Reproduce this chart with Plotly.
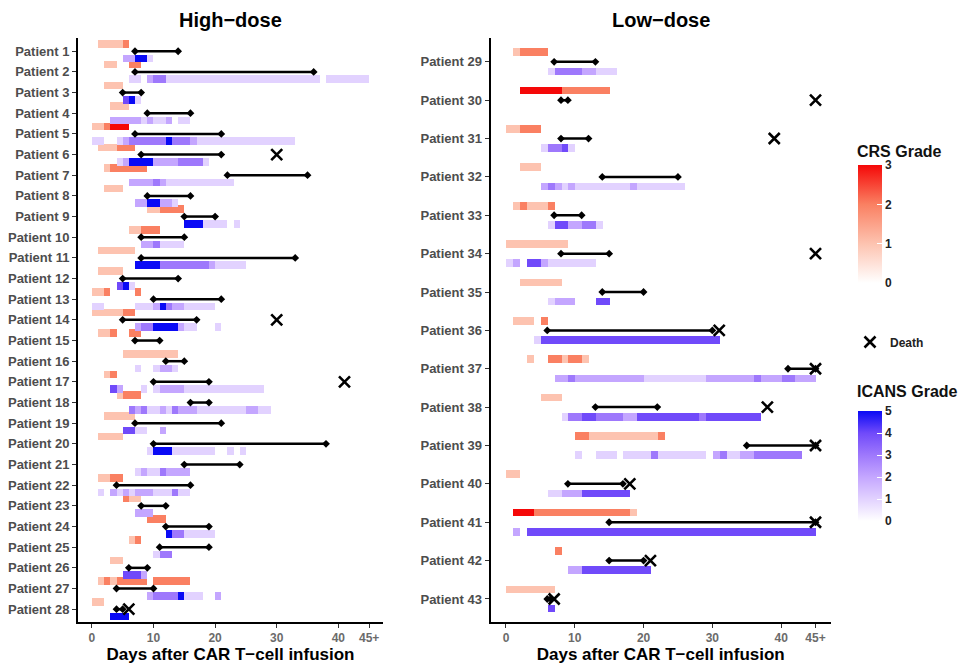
import plotly.graph_objects as go

# ---------------- data ----------------
HIGH_DOSE = list(range(1, 29))
LOW_DOSE = list(range(29, 44))
X_TICKS = [0, 10, 20, 30, 40, 45]
X_TICK_LABELS = ["0", "10", "20", "30", "40", "45+"]

# CRS grade per day, as runs (first day, last day, grade)
CRS_RUNS = {
    1: [(1, 4, 1), (5, 5, 2)],
    2: [(2, 3, 1), (6, 7, 2)],
    3: [(2, 4, 1)],
    4: [(3, 5, 1)],
    5: [(0, 1, 1), (2, 2, 2), (3, 5, 3)],
    6: [(1, 3, 1), (4, 6, 2)],
    7: [(2, 2, 1), (3, 8, 2)],
    8: [(2, 4, 1)],
    9: [(9, 10, 1), (11, 14, 2)],
    10: [(6, 7, 1), (8, 10, 2)],
    11: [(1, 6, 1)],
    12: [(1, 4, 1)],
    13: [(0, 1, 1), (2, 2, 2), (7, 7, 2)],
    14: [(0, 4, 1), (5, 6, 2)],
    15: [(1, 2, 1), (3, 3, 2), (6, 7, 2)],
    16: [(5, 13, 1)],
    17: [(2, 2, 1), (3, 3, 2)],
    18: [(4, 4, 1), (5, 7, 2)],
    19: [(2, 6, 1)],
    20: [(1, 4, 1)],
    22: [(1, 2, 1), (3, 4, 2)],
    23: [(5, 5, 2), (6, 7, 1)],
    24: [(9, 11, 2)],
    25: [(6, 6, 1), (7, 7, 2)],
    26: [(3, 4, 1)],
    27: [(1, 1, 1), (2, 2, 2), (3, 3, 1), (4, 8, 2), (10, 15, 2)],
    28: [(0, 1, 1)],
    29: [(1, 1, 1), (2, 5, 2)],
    30: [(2, 7, 3), (8, 14, 2)],
    31: [(0, 1, 1), (2, 4, 2)],
    32: [(2, 4, 1)],
    33: [(1, 1, 1), (2, 2, 2), (3, 5, 1), (6, 6, 2)],
    34: [(0, 8, 1)],
    35: [(2, 7, 1)],
    36: [(1, 3, 1), (5, 5, 2)],
    37: [(3, 3, 1), (6, 7, 2), (8, 8, 1), (9, 10, 2), (11, 11, 1)],
    38: [(5, 7, 1)],
    39: [(10, 11, 2), (12, 21, 1), (22, 22, 2)],
    40: [(0, 1, 1)],
    41: [(1, 3, 3), (4, 17, 2), (18, 18, 1)],
    42: [(7, 7, 2)],
    43: [(0, 6, 1)],
}

# ICANS grade per day, as runs (first day, last day, grade)
ICANS_RUNS = {
    1: [(5, 6, 2), (7, 8, 5), (9, 9, 1)],
    2: [(6, 7, 1), (9, 9, 2), (10, 11, 3), (12, 36, 1), (38, 44, 1)],
    3: [(5, 5, 4), (6, 6, 5), (7, 7, 1)],
    4: [(3, 7, 2), (8, 8, 1), (9, 9, 2), (10, 11, 1), (12, 12, 2), (14, 15, 1)],
    5: [(0, 1, 1), (4, 4, 1), (5, 5, 2), (6, 11, 3), (12, 12, 5), (13, 15, 3), (16, 16, 2), (17, 32, 1)],
    6: [(4, 4, 1), (5, 5, 2), (6, 9, 5), (10, 13, 2), (14, 17, 3), (18, 18, 1)],
    7: [(6, 9, 2), (10, 10, 3), (11, 11, 2), (12, 22, 1)],
    8: [(7, 8, 2), (9, 10, 5), (11, 12, 2), (13, 13, 1)],
    9: [(15, 17, 5), (18, 21, 1), (23, 23, 1)],
    10: [(8, 9, 2), (10, 10, 3), (11, 14, 1)],
    11: [(7, 10, 5), (11, 18, 3), (19, 19, 2), (20, 24, 1)],
    12: [(4, 4, 4), (5, 5, 5), (6, 6, 1)],
    13: [(0, 1, 1), (7, 9, 1), (10, 10, 2), (11, 11, 5), (12, 12, 3), (13, 14, 2), (15, 19, 1)],
    14: [(7, 7, 2), (8, 9, 3), (10, 13, 5), (14, 14, 2), (15, 16, 1), (20, 20, 1)],
    16: [(7, 7, 1), (10, 10, 1), (11, 12, 2), (13, 13, 1)],
    17: [(3, 3, 4), (4, 4, 2), (8, 8, 1), (10, 10, 1), (11, 14, 2), (15, 27, 1)],
    18: [(6, 6, 3), (7, 7, 2), (8, 8, 3), (9, 10, 1), (11, 11, 2), (12, 12, 1), (13, 13, 3),
         (14, 16, 2), (17, 24, 1), (25, 26, 2), (27, 28, 1)],
    19: [(5, 6, 4), (7, 8, 1), (11, 11, 2)],
    20: [(9, 9, 1), (10, 12, 5), (13, 19, 1), (22, 22, 1), (24, 24, 1)],
    21: [(7, 7, 1), (8, 8, 2), (9, 10, 1), (11, 11, 3), (12, 15, 2)],
    22: [(1, 1, 1), (3, 3, 2), (4, 4, 1), (5, 5, 2), (6, 6, 1), (7, 9, 2), (10, 12, 1), (13, 13, 3), (14, 15, 1)],
    23: [(7, 9, 2)],
    24: [(12, 12, 5), (13, 14, 3), (15, 19, 1)],
    25: [(10, 10, 1), (11, 12, 3)],
    26: [(5, 7, 4), (8, 8, 2)],
    27: [(9, 9, 2), (10, 13, 3), (14, 14, 5), (15, 17, 1), (20, 20, 2)],
    28: [(3, 5, 5)],
    29: [(6, 6, 1), (7, 10, 3), (11, 12, 2), (13, 15, 1)],
    31: [(5, 5, 1), (6, 7, 3), (8, 8, 4), (9, 9, 1)],
    32: [(5, 5, 2), (6, 6, 3), (7, 7, 2), (8, 8, 1), (9, 9, 2), (10, 17, 1), (18, 18, 2), (19, 25, 1)],
    33: [(6, 6, 1), (7, 8, 4), (9, 10, 2), (11, 12, 3), (13, 13, 1)],
    34: [(0, 0, 1), (1, 1, 2), (3, 4, 4), (5, 5, 2), (6, 12, 1)],
    35: [(6, 6, 1), (7, 9, 2), (13, 14, 4)],
    36: [(4, 4, 1), (5, 30, 4)],
    37: [(7, 8, 2), (9, 9, 3), (10, 19, 2), (20, 28, 1), (29, 35, 2), (36, 36, 3), (37, 39, 2),
         (40, 41, 3), (42, 44, 2)],
    38: [(8, 8, 1), (9, 10, 3), (11, 12, 4), (13, 16, 3), (17, 18, 2), (19, 27, 4), (28, 28, 3), (29, 36, 4)],
    39: [(10, 10, 1), (13, 15, 1), (17, 20, 1), (21, 21, 3), (22, 28, 1), (30, 30, 2), (31, 31, 3),
         (32, 33, 1), (34, 35, 2), (36, 42, 3)],
    40: [(6, 7, 1), (8, 10, 2), (11, 17, 4)],
    41: [(1, 1, 2), (3, 44, 4)],
    42: [(9, 10, 2), (11, 20, 4)],
    43: [(6, 6, 4)],
}

# Corticosteroid treatment (start day, end day)
STEROID = {
    1: (7, 14), 2: (7, 36), 3: (5, 8), 4: (9, 16), 5: (7, 21), 6: (8, 21), 7: (22, 35),
    8: (9, 16), 9: (15, 20), 10: (8, 15), 11: (8, 33), 12: (5, 14), 13: (10, 21), 14: (5, 17),
    15: (7, 11), 16: (12, 15), 17: (10, 19), 18: (16, 19), 19: (7, 21), 20: (10, 38), 21: (15, 24),
    22: (4, 16), 23: (8, 12), 24: (12, 19), 25: (11, 19), 26: (6, 9), 27: (4, 10), 28: (4, 5),
    29: (7, 13), 30: (8, 9), 31: (8, 12), 32: (14, 25), 33: (7, 11), 34: (8, 15), 35: (14, 20),
    36: (6, 30), 37: (41, 45), 38: (13, 22), 39: (35, 45), 40: (9, 17), 41: (15, 45), 42: (15, 20),
    43: (6, 6.5),
}

# Day of death
DEATH_DAY = {6: 30, 14: 30, 17: 41, 28: 6,
             30: 45, 31: 39, 34: 45, 36: 31, 37: 45, 38: 38, 39: 45, 40: 18, 41: 45, 42: 21, 43: 7}

# ---------------- style ----------------
FONT = "Liberation Sans, Arial, sans-serif"
CRS_SCALE = [[0, "rgb(255,255,255)"], [1 / 3, "rgb(253,195,176)"], [2 / 3, "rgb(250,128,98)"],
             [1, "rgb(245,8,8)"]]
ICANS_SCALE = [[0, "rgb(255,255,255)"], [0.2, "rgb(226,210,255)"], [0.4, "rgb(196,166,255)"],
               [0.6, "rgb(158,120,252)"], [0.8, "rgb(112,74,250)"], [1, "rgb(10,10,245)"]]
W, H = 970, 664


def expand(runs, patients):
    days, pats, grades = [], [], []
    for p in patients:
        for s, e, g in runs.get(p, []):
            for d in range(s, e + 1):
                days.append(d)
                pats.append(p)
                grades.append(g)
    return days, pats, grades


def cbar(center_px, len_px, ticks):
    return dict(x=858 / W, xanchor="left", xpad=0, y=1 - center_px / H, yanchor="middle",
                ypad=0, len=len_px, lenmode="pixels", thickness=24, outlinewidth=0,
                tickvals=ticks, ticks="inside", ticklen=5, tickcolor="white",
                tickfont=dict(family=FONT, size=12, color="#222", weight="bold"))


fig = go.Figure()

panels = [
    dict(pats=HIGH_DOSE, xa="x", ya="y", off=0.35, h=0.37, first=True),
    dict(pats=LOW_DOSE, xa="x2", ya="y2", off=0.25, h=0.2, first=False),
]

for pn in panels:
    d, p, g = expand(CRS_RUNS, pn["pats"])
    fig.add_trace(go.Bar(
        orientation="h", base=d, x=[1] * len(d), y=[v - pn["off"] for v in p], width=pn["h"],
        marker=dict(color=g, colorscale=CRS_SCALE, cmin=0, cmax=3, line=dict(width=0),
                    showscale=pn["first"], colorbar=cbar(224, 118, [0, 1, 2, 3])),
        xaxis=pn["xa"], yaxis=pn["ya"], showlegend=False, hoverinfo="skip"))
    d, p, g = expand(ICANS_RUNS, pn["pats"])
    fig.add_trace(go.Bar(
        orientation="h", base=d, x=[1] * len(d), y=[v + pn["off"] for v in p], width=pn["h"],
        marker=dict(color=g, colorscale=ICANS_SCALE, cmin=0, cmax=5, line=dict(width=0),
                    showscale=pn["first"], colorbar=cbar(466, 110, [0, 1, 2, 3, 4, 5])),
        xaxis=pn["xa"], yaxis=pn["ya"], showlegend=False, hoverinfo="skip"))
    sx, sy = [], []
    for q in pn["pats"]:
        if q in STEROID:
            s, e = STEROID[q]
            sx += [s, e, None]
            sy += [q, q, None]
    fig.add_trace(go.Scatter(
        x=sx, y=sy, mode="lines+markers", line=dict(color="black", width=2.5),
        marker=dict(symbol="diamond", size=6, color="black"),
        xaxis=pn["xa"], yaxis=pn["ya"], showlegend=False, hoverinfo="skip"))
    dx = [DEATH_DAY[q] for q in pn["pats"] if q in DEATH_DAY]
    dy = [q for q in pn["pats"] if q in DEATH_DAY]
    fig.add_trace(go.Scatter(
        x=dx, y=dy, mode="markers", name="Death",
        marker=dict(symbol="x-thin", size=11, color="black", line=dict(width=2.6, color="black")),
        xaxis=pn["xa"], yaxis=pn["ya"], showlegend=pn["first"], hoverinfo="skip"))

xcommon = dict(range=[-2.25, 47.25], tickvals=X_TICKS, ticktext=X_TICK_LABELS, automargin=False,
               ticks="outside", ticklen=4, tickwidth=1, tickcolor="#333",
               showline=True, linecolor="black", linewidth=2, showgrid=False, zeroline=False,
               tickfont=dict(family=FONT, size=12, color="#6b6b6b", weight="bold"),
               title=dict(text="<b>Days after CAR T\u2212cell infusion</b>", standoff=2,
                          font=dict(family=FONT, size=17, color="black")))
ycommon = dict(ticks="outside", ticklen=4, tickwidth=1, tickcolor="#333", automargin=False,
               showline=True, linecolor="black", linewidth=2, showgrid=False, zeroline=False,
               tickfont=dict(family=FONT, size=13, color="#4d4d4d", weight="bold"),
               domain=[1 - 622 / H, 1 - 38 / H])

ann = []
for txt, cx in [("High\u2212dose", (78 + 383) / 2), ("Low\u2212dose", (490.5 + 831) / 2)]:
    ann.append(dict(text=f"<b>{txt}</b>", x=cx / W, y=1 - 20 / H, xref="paper", yref="paper",
                    showarrow=False, xanchor="center", yanchor="middle",
                    font=dict(family=FONT, size=20, color="black")))
for txt, cy in [("CRS Grade", 152), ("ICANS Grade", 391)]:
    ann.append(dict(text=f"<b>{txt}</b>", x=855 / W, y=1 - cy / H, xref="paper", yref="paper",
                    showarrow=False, xanchor="left", yanchor="middle",
                    font=dict(family=FONT, size=16, color="#111")))

fig.update_layout(
    width=W, height=H, margin=dict(l=0, r=0, t=0, b=0),
    paper_bgcolor="white", plot_bgcolor="white", barmode="overlay", bargap=0,
    xaxis=dict(domain=[78 / W, 383 / W], anchor="y", **xcommon),
    xaxis2=dict(domain=[490.5 / W, 831 / W], anchor="y2", **xcommon),
    yaxis=dict(anchor="x", range=[28.62, 0.36], tickvals=HIGH_DOSE,
               ticktext=[f"Patient {q}" for q in HIGH_DOSE], **ycommon),
    yaxis2=dict(anchor="x2", range=[43.6, 28.38], tickvals=LOW_DOSE,
                ticktext=[f"Patient {q}" for q in LOW_DOSE], **ycommon),
    legend=dict(x=850 / W, y=1 - 342 / H, xanchor="left", yanchor="middle",
                font=dict(family=FONT, size=12, color="#222", weight="bold"),
                bgcolor="rgba(0,0,0,0)", itemwidth=30),
    annotations=ann,
)

fig.write_html("out.html", config={"displayModeBar": False},
               post_script="document.body.style.margin='0';document.body.style.padding='0';")
